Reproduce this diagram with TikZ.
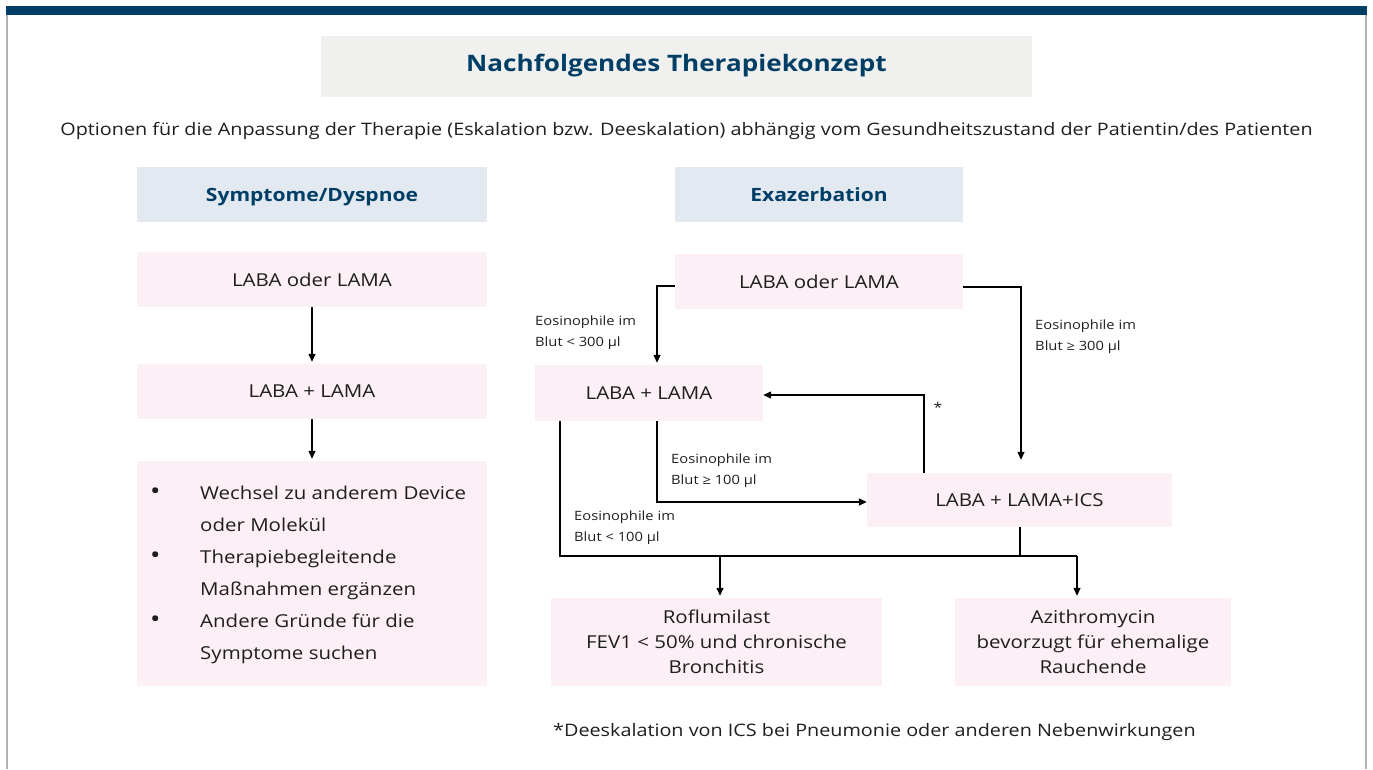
\documentclass[tikz,border=0pt]{standalone}
\usepackage{fontspec}
\setmainfont{Open Sans}[FakeStretch=1.15]
\usetikzlibrary{arrows.meta,calc}
\definecolor{navy}{RGB}{0,62,102}
\definecolor{titlegrey}{RGB}{240,240,238}
\definecolor{headblue}{RGB}{227,233,241}
\definecolor{pinkbox}{RGB}{252,239,245}
\definecolor{framegrey}{RGB}{178,178,178}
\definecolor{txt}{RGB}{30,30,30}
\tikzset{
  box/.style={fill=pinkbox, inner sep=0pt, align=center, text=txt, font=\fontsize{17.8}{25}\selectfont},
  head/.style={fill=headblue, inner sep=0pt, text height=13pt, text depth=0pt, font=\bfseries\fontsize{18.3}{20}\selectfont, text=navy},
  lbl/.style={anchor=west, align=left, inner sep=0pt, text=txt, font=\fontsize{12.8}{21}\selectfont},
  arr/.style={-{Triangle[length=8pt,width=7pt]}, line width=1.3pt},
  conn/.style={line width=1.3pt},
}
\newcommand{\bigbul}{{\fontsize{24}{24}\selectfont •}}
\begin{document}
\begin{tikzpicture}[x=1pt,y=-1pt]
\useasboundingbox (0,0) rectangle (1373,769);
% frame
\fill[navy] (6,6) rectangle (1367,15);
\draw[framegrey, line width=2pt] (7,15) -- (7,769);
\draw[framegrey, line width=2pt] (1366,15) -- (1366,769);
% title
\node[fill=titlegrey, minimum width=711pt, minimum height=61pt, inner sep=0pt,
      font=\bfseries\fontsize{22.7}{28}\selectfont, text=navy] (title) at (676.5,66) {Nachfolgendes Therapiekonzept};
\node[inner sep=0pt, text=txt, font=\fontsize{17.2}{20}\selectfont] (sub) at (686.5,131)
  {Optionen für die Anpassung der Therapie (Eskalation bzw. Deeskalation) abhängig vom Gesundheitszustand der Patientin/des Patienten};
% headers
\node[head, minimum width=350pt, minimum height=55pt] (h1) at (312,194.5) {Symptome/Dyspnoe};
\node[head, minimum width=288pt, minimum height=55pt] (h2) at (819,194.5) {Exazerbation};
% left column
\node[box, minimum width=350pt, minimum height=55pt] (L1) at (312,279.5) {LABA oder LAMA};
\node[box, minimum width=350pt, minimum height=55pt] (L2) at (312,391.5) {LABA + LAMA};
\node[box, minimum width=350pt, minimum height=225pt] (L3) at (312,573.5) {};
\node[anchor=north west, inner sep=0pt, text=txt, font=\fontsize{17.8}{32}\selectfont] (list) at (150,477)
  {\begin{tabular}{@{}p{50pt}@{}l@{}}
   \bigbul & Wechsel zu anderem Device\\
     & oder Molekül\\
   \bigbul & Therapiebegleitende\\
     & Maßnahmen ergänzen\\
   \bigbul & Andere Gründe für die\\
     & Symptome suchen
   \end{tabular}};
\draw[arr] (L1) -- ([yshift=2pt]L2.north);
\draw[arr] (L2) -- ([yshift=2pt]L3.north);
% right column
\node[box, minimum width=288pt, minimum height=55pt] (R1) at (819,281.5) {LABA oder LAMA};
\node[box, minimum width=228pt, minimum height=56pt] (R2) at (649,393) {LABA + LAMA};
\node[box, minimum width=305pt, minimum height=54pt] (R3) at (1019.5,500) {LABA + LAMA+ICS};
\node[box, minimum width=331pt, minimum height=88pt] (R4) at (716.5,642) {Roflumilast\\FEV1 < 50\% und chronische\\Bronchitis};
\node[box, minimum width=276pt, minimum height=88pt] (R5) at (1093,642) {Azithromycin\\bevorzugt für ehemalige\\Rauchende};
% connectors
\draw[arr] ([yshift=-4.5pt]R1.west) -| ([xshift=8pt,yshift=2pt]R2.north);
\draw[arr] ([yshift=-5.5pt]R1.east) -| ([xshift=1.5pt,yshift=13pt]R3.north);
\draw[arr] ([xshift=-95.5pt]R3.north) |- ([yshift=-2pt]R2.east);
\draw[arr] ([xshift=8pt]R2.south) |- ([yshift=-2pt]R3.west);
\coordinate (busL) at (560,556);
\coordinate (busR) at (1077,556);
\draw[conn] ([xshift=-89pt]R2.south) |- (busR);
\draw[conn] ([xshift=0.5pt]R3.south) -- ($(R3.south |- busR)+(0.5,0)$);
\draw[arr] ($(R4.north |- busL)+(3.5,0)$) -- ([xshift=3.5pt,yshift=2pt]R4.north);
\draw[arr] (busR) -- ([yshift=2pt]busR |- R5.north);
% labels
\node[lbl] (e1) at (535,333) {Eosinophile im\\Blut < 300 µl};
\node[lbl] (e2) at (1035,337) {Eosinophile im\\Blut ≥ 300 µl};
\node[lbl] (e3) at (671,471) {Eosinophile im\\Blut ≥ 100 µl};
\node[lbl] (e4) at (574,528) {Eosinophile im\\Blut < 100 µl};
\node[inner sep=0pt, text=txt, font=\fontsize{13.5}{16}\selectfont] (star) at (938,407) {*};
% footnote
\node[anchor=west, inner sep=0pt, text=txt, font=\fontsize{17.2}{20}\selectfont] (foot) at (553,732)
  {*Deeskalation von ICS bei Pneumonie oder anderen Nebenwirkungen};
\end{tikzpicture}
\end{document}
